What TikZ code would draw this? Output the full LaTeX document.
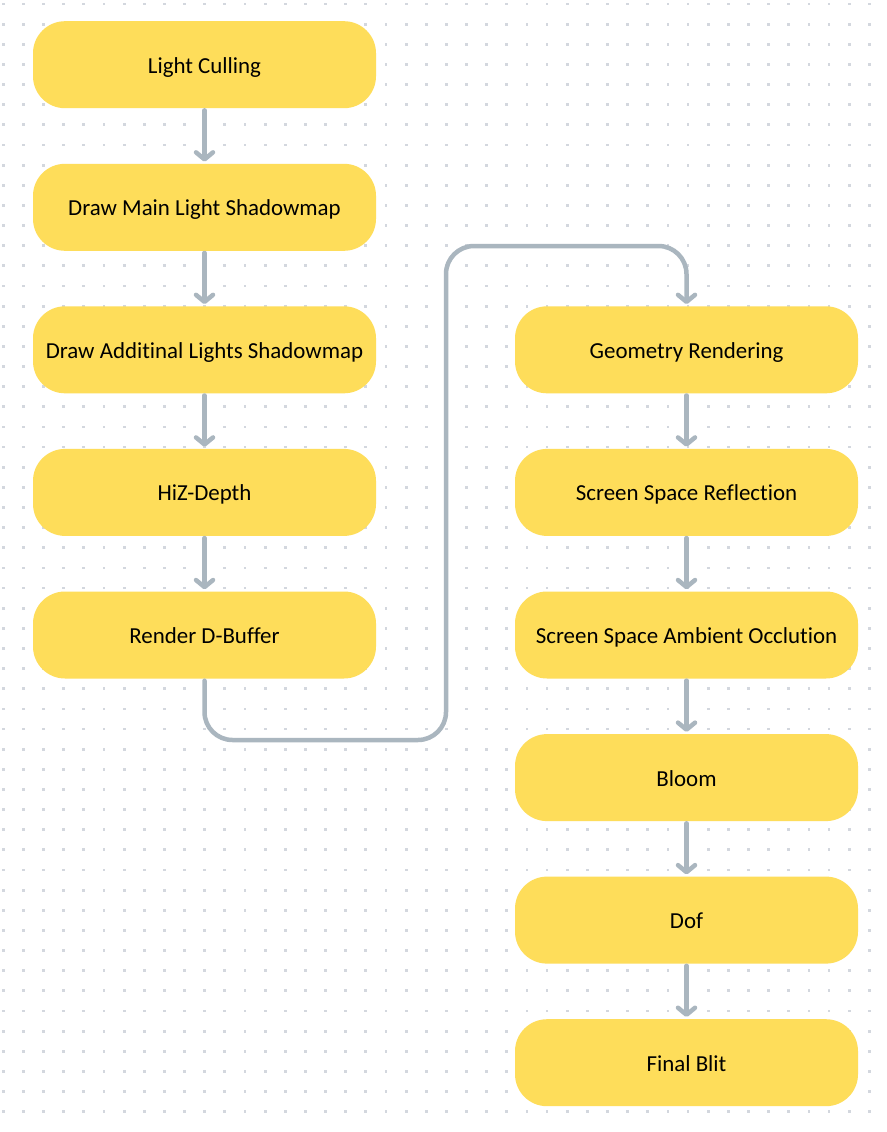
\documentclass[tikz,border=0pt]{standalone}
\usepackage{fontspec}
\setmainfont{Carlito}[Ligatures=NoCommon]
\usetikzlibrary{arrows.meta}
\definecolor{boxyellow}{HTML}{FEDD5A}
\definecolor{linegray}{HTML}{AAB6BF}
\definecolor{dotgray}{HTML}{D3D7DE}
\tikzset{
  stepbox/.style={fill=boxyellow, draw=none, rounded corners=32pt, minimum width=343pt, minimum height=87pt, inner sep=0pt, text height=19pt, text depth=2pt, font=\fontsize{22.9}{27}\selectfont, text=black},
  flow/.style={draw=linegray, line width=4.5pt, line cap=round, -{Straight Barb[length=7pt,width=17pt,round]}, shorten <=2pt, shorten >=2pt},
}
\begin{document}
\begin{tikzpicture}[x=1pt,y=-1pt]
\useasboundingbox (0,0) rectangle (886,1132);
\fill[white] (0,0) rectangle (886,1132);
\foreach \i in {0,...,43}{
  \foreach \j in {0,...,55}{
    \fill[dotgray] ({3.3+20.14*\i-1.4},{4+20.14*\j-1.4}) rectangle ++(2.8,2.8);
  }
}
\node[stepbox] (n1) at (204.5,64.7) {Light Culling};
\node[stepbox] (n2) at (204.5,207.3) {Draw Main Light Shadowmap};
\node[stepbox] (n3) at (204.5,349.8) {Draw Additinal Lights Shadowmap};
\node[stepbox] (n4) at (204.5,492.4) {HiZ-Depth};
\node[stepbox] (n5) at (204.5,635.0) {Render D-Buffer};
\node[stepbox] (m1) at (686.5,349.8) {Geometry Rendering};
\node[stepbox] (m2) at (686.5,492.4) {Screen Space Reflection};
\node[stepbox] (m3) at (686.5,635.0) {Screen Space Ambient Occlution};
\node[stepbox] (m4) at (686.5,777.6) {Bloom};
\node[stepbox] (m5) at (686.5,920.1) {Dof};
\node[stepbox] (m6) at (686.5,1062.7) {Final Blit};
\draw[flow] (n1) -- (n2);
\draw[flow] (n2) -- (n3);
\draw[flow] (n3) -- (n4);
\draw[flow] (n4) -- (n5);
\draw[flow, rounded corners=28pt] (n5.south) -- (204.5,740) -- (446,740) -- (446,246) -- (686.5,246) -- (m1.north);
\draw[flow] (m1) -- (m2);
\draw[flow] (m2) -- (m3);
\draw[flow] (m3) -- (m4);
\draw[flow] (m4) -- (m5);
\draw[flow] (m5) -- (m6);
\end{tikzpicture}
\end{document}
